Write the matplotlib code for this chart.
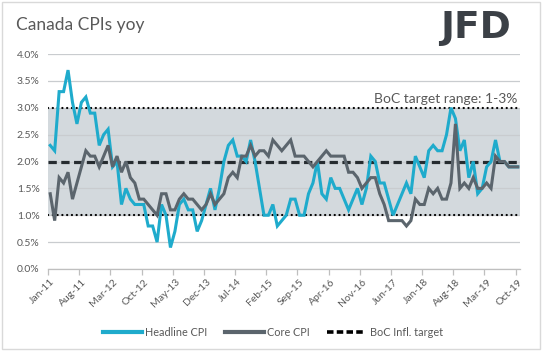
import numpy as np
import pandas as pd
import matplotlib
matplotlib.use("Agg")
import matplotlib.pyplot as plt
from matplotlib.patches import Rectangle

plt.rcParams['font.family'] = ['Lato', 'DejaVu Sans']

# monthly categories, Jan-11 .. Oct-19
months = pd.date_range("2011-01-01", periods=106, freq="MS")

headline = [
    2.3, 2.2, 3.3, 3.3, 3.7, 3.1, 2.7, 3.1, 3.2, 2.9, 2.9, 2.3,  # 2011
    2.5, 2.6, 1.9, 2.0, 1.2, 1.5, 1.3, 1.2, 1.2, 1.2, 0.8, 0.8,  # 2012
    0.5, 1.2, 1.0, 0.4, 0.7, 1.2, 1.3, 1.1, 1.1, 0.7, 0.9, 1.2,  # 2013
    1.5, 1.1, 1.5, 2.0, 2.3, 2.4, 2.1, 2.1, 2.0, 2.4, 2.0, 1.5,  # 2014
    1.0, 1.0, 1.2, 0.8, 0.9, 1.0, 1.3, 1.3, 1.0, 1.0, 1.4, 1.6,  # 2015
    2.0, 1.4, 1.3, 1.7, 1.5, 1.5, 1.3, 1.1, 1.3, 1.5, 1.2, 1.5,  # 2016
    2.1, 2.0, 1.6, 1.6, 1.3, 1.0, 1.2, 1.4, 1.6, 1.4, 2.1, 1.9,  # 2017
    1.7, 2.2, 2.3, 2.2, 2.2, 2.5, 3.0, 2.8, 2.2, 2.4, 1.7, 2.0,  # 2018
    1.4, 1.5, 1.9, 2.0, 2.4, 2.0, 2.0, 1.9, 1.9, 1.9,            # 2019
]

core = [
    1.4, 0.9, 1.7, 1.6, 1.8, 1.3, 1.6, 1.9, 2.2, 2.1, 2.1, 1.9,
    2.1, 2.3, 1.9, 2.1, 1.8, 2.0, 1.7, 1.6, 1.3, 1.3, 1.2, 1.1,
    1.0, 1.4, 1.4, 1.1, 1.1, 1.3, 1.4, 1.3, 1.3, 1.2, 1.1, 1.2,
    1.4, 1.2, 1.3, 1.4, 1.7, 1.8, 1.7, 2.1, 2.1, 2.3, 2.1, 2.2,
    2.2, 2.1, 2.4, 2.3, 2.2, 2.3, 2.4, 2.1, 2.1, 2.1, 2.0, 1.9,
    2.0, 2.1, 2.2, 2.1, 2.1, 2.1, 2.1, 1.8, 1.8, 1.7, 1.5, 1.6,
    1.7, 1.7, 1.4, 1.2, 0.9, 0.9, 0.9, 0.9, 0.8, 0.9, 1.3, 1.2,
    1.2, 1.5, 1.4, 1.5, 1.3, 1.3, 1.6, 2.7, 1.5, 1.6, 1.5, 1.7,
    1.5, 1.5, 1.6, 1.5, 2.1, 2.0, 2.0, 1.9, 1.9, 1.9,
]

target = 2.0
band_low, band_high = 1.0, 3.0

CYAN = '#1fabcc'
SLATE = '#5b656d'
TXT = '#595959'

fig = plt.figure(figsize=(5.43, 3.51), dpi=100)
ax = fig.add_axes([48 / 543, 1 - 269 / 351, 472 / 543, 215 / 351])

x = np.arange(len(months))

ax.axhspan(band_low, band_high, color='#d3d9dd', zorder=0, lw=0)
ax.set_axisbelow(True)
ax.grid(True, axis='y', color='#c9cccf', lw=0.9)

ax.axhline(band_high, color='black', lw=1.6, linestyle=(0, (0.05, 2.1)),
           dash_capstyle='round', zorder=2)
ax.axhline(band_low, color='black', lw=1.6, linestyle=(0, (0.05, 2.1)),
           dash_capstyle='round', zorder=2)
ax.axhline(target, color='#262c30', lw=2.3, linestyle=(0, (2.6, 1.4)), zorder=2)

ax.plot(x, headline, color=CYAN, lw=2.2, zorder=3, solid_joinstyle='miter')
ax.plot(x, core, color=SLATE, lw=2.2, zorder=4, solid_joinstyle='miter')

ax.set_xlim(-0.5, len(months) - 0.5)
ax.set_ylim(0, 4)
ax.set_yticks(np.arange(0, 4.01, 0.5))
ax.set_yticklabels(["%.1f%%" % v for v in np.arange(0, 4.01, 0.5)])

tick_idx = list(range(0, len(months), 7))
ax.set_xticks(tick_idx)
ax.set_xticklabels([months[i].strftime("%b-%y") for i in tick_idx],
                   rotation=45, ha='right', rotation_mode='anchor')
ax.set_xticks([i - 0.5 for i in tick_idx], minor=True)
ax.tick_params(axis='x', which='major', length=0, pad=6, labelsize=7.5, labelcolor=TXT)
ax.tick_params(axis='x', which='minor', length=4, color='#bfbfbf', width=0.9)
ax.tick_params(axis='y', length=0, pad=6, labelsize=7.5, labelcolor=TXT)

for s in ['top', 'right', 'left']:
    ax.spines[s].set_visible(False)
ax.spines['bottom'].set_color('#bfbfbf')
ax.spines['bottom'].set_linewidth(0.9)

ax.text(0.995, 3.06, "BoC target range: 1-3%", transform=ax.get_yaxis_transform(),
        ha='right', va='bottom', fontsize=10, color=TXT)

# legend
h1, = ax.plot([], [], color=CYAN, lw=3, label="Headline CPI")
h2, = ax.plot([], [], color=SLATE, lw=3, label="Core CPI")
h3, = ax.plot([], [], color='black', lw=2.6, linestyle=(0, (1.8, 0.9)), label="BoC Infl. target")
fig.legend(handles=[h1, h2, h3], loc='center', bbox_to_anchor=(273 / 543, 1 - 332 / 351),
           ncol=3, frameon=False, fontsize=7.8, handlelength=3.6, columnspacing=1.6,
           handletextpad=0.3, labelcolor=TXT)

fig.text(16 / 543, 1 - 25 / 351, "Canada CPIs yoy", fontsize=12.5, color=TXT,
         ha='left', va='center')
fig.text(511 / 543, 1 - 28 / 351, "JFD", fontsize=27, fontweight='bold', color='#3b4046',
         ha='right', va='center', family='DejaVu Sans')

fig.patches.append(Rectangle((2 / 543, 2 / 351), 538 / 543, 347 / 351, transform=fig.transFigure,
                             fill=False, edgecolor='#d9d9d9', lw=1))

fig.savefig("out.png", dpi=100)
